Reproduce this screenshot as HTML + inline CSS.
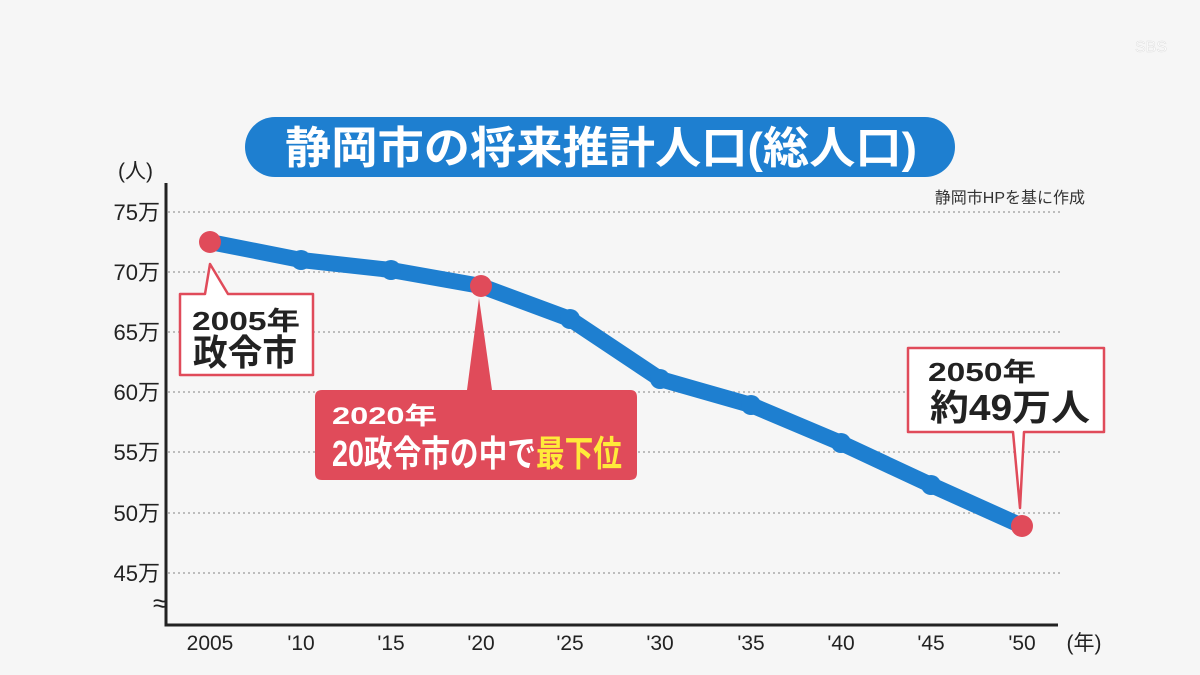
<!DOCTYPE html>
<html><head><meta charset="utf-8"><style>
body{margin:0;background:#f6f6f6;}
svg{display:block}
text{font-family:"Liberation Sans","Noto Sans CJK JP",sans-serif;}
</style></head><body>
<svg width="1200" height="675" viewBox="0 0 1200 675">
<rect width="1200" height="675" fill="#f6f6f6"/>
<text x="1135" y="52" font-size="16" fill="#fff" stroke="#ddd" stroke-width="0.5">SBS</text>
<rect x="245" y="117" width="710" height="60" rx="30" fill="#1e7fd0"/>
<text x="285" y="163" font-size="44" font-weight="bold" fill="#fff" textLength="632" lengthAdjust="spacingAndGlyphs">静岡市の将来推計人口(総人口)</text>
<text x="1085" y="203" font-size="16" fill="#333" text-anchor="end">静岡市HPを基に作成</text>
<text x="118" y="178" font-size="21" fill="#222">(人)</text>
<g stroke="#aaa" stroke-width="1.5" stroke-dasharray="2,3">
<line x1="168" y1="212" x2="1060" y2="212"/><line x1="168" y1="272" x2="1060" y2="272"/>
<line x1="168" y1="332" x2="1060" y2="332"/><line x1="168" y1="392" x2="1060" y2="392"/>
<line x1="168" y1="452" x2="1060" y2="452"/><line x1="168" y1="513" x2="1060" y2="513"/>
<line x1="168" y1="573" x2="1060" y2="573"/></g>
<g font-size="22" fill="#222" text-anchor="end">
<text x="160" y="220">75万</text><text x="160" y="280">70万</text><text x="160" y="340">65万</text>
<text x="160" y="400">60万</text><text x="160" y="460">55万</text><text x="160" y="521">50万</text><text x="160" y="581">45万</text></g>
<text x="153" y="612" font-size="26" fill="#222">≈</text>
<path d="M166 183 V625 H1058" fill="none" stroke="#222" stroke-width="3"/>
<g font-size="21" fill="#222" text-anchor="middle">
<text x="210" y="650">2005</text><text x="301" y="650">'10</text><text x="391" y="650">'15</text>
<text x="481" y="650">'20</text><text x="570" y="650">'25</text><text x="660" y="650">'30</text>
<text x="751" y="650">'35</text><text x="841" y="650">'40</text><text x="931" y="650">'45</text>
<text x="1022" y="650">'50</text><text x="1084" y="650">(年)</text></g>
<polyline points="210,242 301,260 391,270 481,286 570,319 660,379 751,405 841,443 931,485 1022,526" fill="none" stroke="#1e7fd0" stroke-width="16" stroke-linejoin="round"/>
<g fill="#1e7fd0"><circle cx="301" cy="260" r="10"/><circle cx="391" cy="270" r="10"/><circle cx="570" cy="319" r="10"/><circle cx="660" cy="379" r="10"/><circle cx="751" cy="405" r="10"/><circle cx="841" cy="443" r="10"/><circle cx="931" cy="485" r="10"/></g>
<path d="M180 294 H205 L210 264 L228 294 H313 V375 H180 Z" fill="#fff" stroke="#e04b5a" stroke-width="2.5" stroke-linejoin="round"/>
<text x="192" y="330" font-size="26" font-weight="bold" fill="#222" textLength="108" lengthAdjust="spacingAndGlyphs">2005年</text>
<text x="193" y="365" font-size="36" font-weight="bold" fill="#222" textLength="104" lengthAdjust="spacingAndGlyphs">政令市</text>
<path d="M908 348 H1104 V432 H1024 L1020 508 L1013 432 H908 Z" fill="#fff" stroke="#e04b5a" stroke-width="2.5" stroke-linejoin="round"/>
<text x="928" y="381" font-size="26" font-weight="bold" fill="#222" textLength="108" lengthAdjust="spacingAndGlyphs">2050年</text>
<text x="930" y="420" font-size="36" font-weight="bold" fill="#222" textLength="160" lengthAdjust="spacingAndGlyphs">約49万人</text>
<path d="M322 390 H467 L479 298 L492 390 H630 Q637 390 637 397 V473 Q637 480 630 480 H322 Q315 480 315 473 V397 Q315 390 322 390 Z" fill="#e04b5a"/>
<text x="332" y="424" font-size="24" font-weight="bold" fill="#fff" textLength="105" lengthAdjust="spacingAndGlyphs">2020年</text>
<text x="332" y="466" font-size="36" font-weight="bold" fill="#fff" textLength="290" lengthAdjust="spacingAndGlyphs">20政令市の中で<tspan fill="#ffea3a">最下位</tspan></text>
<circle cx="210" cy="242" r="11" fill="#e04b5a"/><circle cx="481" cy="286" r="11" fill="#e04b5a"/><circle cx="1022" cy="526" r="11" fill="#e04b5a"/>
</svg>
</body></html>
